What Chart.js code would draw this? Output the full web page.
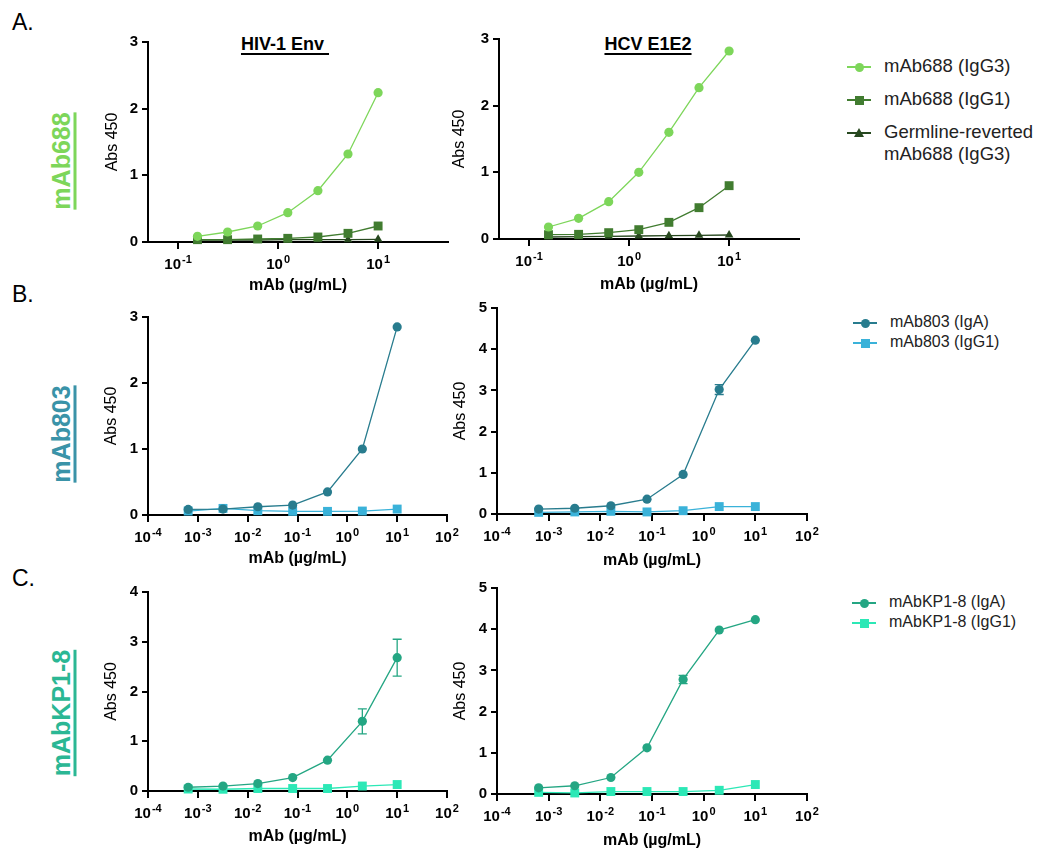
<!DOCTYPE html>
<html>
<head>
<meta charset="utf-8">
<script src="https://cdn.jsdelivr.net/npm/chart.js@4.4.1/dist/chart.umd.min.js"></script>
<style>
  body { margin: 0; background: #fff; font-family: "Liberation Sans", Arial, Helvetica, sans-serif; }
  #fig { position: relative; width: 1047px; height: 848px; overflow: hidden; }
  canvas { position: absolute; }
  .txt { position: absolute; white-space: nowrap; line-height: 1; color: #000; }
  .center { transform: translate(-50%, -50%); }
  .rot { transform: translate(-50%, -50%) rotate(-90deg); font-weight: bold; font-size: 25px;
         text-decoration: underline; text-decoration-thickness: 3px; text-underline-offset: 4px; }
  .head { font-weight: bold; font-size: 18px; text-decoration: underline; text-decoration-thickness: 2px; text-underline-offset: 3px; }
  .mk { position: absolute; }
</style>
</head>
<body>
<div id="fig">
  <div class="txt" style="left:12px;top:11px;font-size:23px">A.</div>
  <div class="txt" style="left:12px;top:283px;font-size:23px">B.</div>
  <div class="txt" style="left:12px;top:567px;font-size:23px">C.</div>

  <div class="txt rot" style="left:61px;top:161px;color:#7dd65a">mAb688</div>
  <div class="txt rot" style="left:61px;top:434px;color:#3a93a8">mAb803</div>
  <div class="txt rot" style="left:61px;top:713px;color:#2bb794">mAbKP1-8</div>

  <div class="txt center head" style="left:285px;top:44px">HIV-1 Env&nbsp;</div>
  <div class="txt center head" style="left:648px;top:44px">HCV E1E2</div>
</div>

<script>
// ---- Datos ----
const concA = [0.15625, 0.3125, 0.625, 1.25, 2.5, 5, 10];
const concBC = [0.00064, 0.0032, 0.016, 0.08, 0.4, 2, 10];

const ticksA = [0.1, 1, 10];
const ticksBC = [1e-4, 1e-3, 1e-2, 1e-1, 1, 10, 100];

// HIV-1 Env (mAb688)
const hivIgG3 = [0.085, 0.15, 0.24, 0.44, 0.77, 1.32, 2.24];
const hivIgG1 = [0.035, 0.035, 0.045, 0.055, 0.075, 0.13, 0.24];
const hivGerm = [0.03, 0.03, 0.03, 0.035, 0.035, 0.035, 0.04];

// HCV E1E2 (mAb688)
const hcvIgG3 = [0.18, 0.31, 0.56, 1.0, 1.6, 2.27, 2.82];
const hcvIgG1 = [0.065, 0.07, 0.095, 0.14, 0.25, 0.47, 0.8];
const hcvGerm = [0.03, 0.035, 0.04, 0.045, 0.05, 0.055, 0.06];

// mAb803
const b1IgA = [0.085, 0.09, 0.125, 0.15, 0.35, 1.0, 2.85];
const b1IgG1 = [0.06, 0.1, 0.065, 0.055, 0.055, 0.06, 0.09];
const b2IgA = [0.12, 0.14, 0.2, 0.36, 0.96, 3.02, 4.22];
const b2IgAErr = [0, 0, 0, 0, 0, 0.12, 0];
const b2IgG1 = [0.04, 0.05, 0.065, 0.05, 0.08, 0.18, 0.18];

// mAbKP1-8
const c1IgA = [0.075, 0.1, 0.15, 0.27, 0.62, 1.4, 2.68];
const c1IgAErr = [0, 0, 0, 0, 0, 0.25, 0.37];
const c1IgG1 = [0.04, 0.035, 0.05, 0.05, 0.05, 0.1, 0.13];
const c2IgA = [0.15, 0.2, 0.4, 1.12, 2.78, 3.98, 4.23];
const c2IgAErr = [0, 0, 0, 0, 0.1, 0, 0];
const c2IgG1 = [0.04, 0.025, 0.06, 0.06, 0.06, 0.09, 0.23];

// Colores
const colIgG3 = '#7dd65a';
const colIgG1 = '#417c30';
const colGerm = '#27481f';
const col803A = '#287c8e';
const col803G = '#3ab2d9';
const colKPA = '#24a683';
const colKPG = '#2ce8b6';

const FONT = '"Liberation Sans", Arial, Helvetica, sans-serif';
const fig = document.getElementById('fig');

// ---- Plugins ----
const errorBars = {
  id: 'errorBars',
  afterDatasetsDraw(chart) {
    const { ctx, scales: { x, y } } = chart;
    chart.data.datasets.forEach(ds => {
      if (!ds.errors) return;
      ctx.save();
      ctx.strokeStyle = ds.borderColor;
      ctx.lineWidth = 1.3;
      ds.data.forEach((p, i) => {
        const e = ds.errors[i];
        if (!e) return;
        const px = x.getPixelForValue(p.x);
        const top = y.getPixelForValue(p.y + e);
        const bot = y.getPixelForValue(p.y - e);
        ctx.beginPath();
        ctx.moveTo(px, top); ctx.lineTo(px, bot);
        ctx.moveTo(px - 4.5, top); ctx.lineTo(px + 4.5, top);
        ctx.moveTo(px - 4.5, bot); ctx.lineTo(px + 4.5, bot);
        ctx.stroke();
      });
      ctx.restore();
    });
  }
};

// etiquetas 10^n con exponente
const powerTicks = {
  id: 'powerTicks',
  afterDraw(chart) {
    const { ctx, scales: { x } } = chart;
    ctx.save();
    ctx.fillStyle = '#000';
    ctx.textBaseline = 'alphabetic';
    const base = x.top + 27;
    x.ticks.forEach(t => {
      const px = x.getPixelForValue(t.value);
      const exp = String(Math.round(Math.log10(t.value)));
      ctx.font = 'bold 15px ' + FONT;
      const wb = ctx.measureText('10').width;
      ctx.font = 'bold 11px ' + FONT;
      const we = ctx.measureText(exp).width;
      const start = px - (wb + we + 1) / 2;
      ctx.font = 'bold 15px ' + FONT;
      ctx.fillText('10', start, base);
      ctx.font = 'bold 11px ' + FONT;
      ctx.fillText(exp, start + wb + 1, base - 6);
    });
    ctx.restore();
  }
};

function series(label, y, color, shape, errors) {
  return { label, y, color, shape, errors };
}

function makePanel(cfg) {
  const padT = 14, padR = 22;
  const a = cfg.area;
  const cLeft = Math.round(cfg.yTitleX - 9.6);
  const cTop = a.top - padT;
  const cRight = a.left + a.w + padR;
  const cBottom = Math.round(cfg.xTitleY + 9.6);
  const canvas = document.createElement('canvas');
  canvas.width = cRight - cLeft;
  canvas.height = cBottom - cTop;
  canvas.style.left = cLeft + 'px';
  canvas.style.top = cTop + 'px';
  fig.appendChild(canvas);
  const yW = a.left - cLeft;
  const xH = cBottom - (a.top + a.h);

  new Chart(canvas, {
    type: 'line',
    data: {
      datasets: cfg.series.map(s => ({
        label: s.label,
        data: cfg.x.map((v, i) => ({ x: v, y: s.y[i] })),
        errors: s.errors,
        borderColor: s.color,
        backgroundColor: s.color,
        borderWidth: 1.3,
        pointStyle: s.shape,
        pointRadius: s.shape === 'rect' ? 6.3 : (s.shape === 'triangle' ? 5 : 4.6),
        pointBorderWidth: 0,
        tension: 0,
        clip: false
      }))
    },
    options: {
      responsive: false,
      animation: false,
      devicePixelRatio: 1,
      layout: { padding: { top: padT, right: padR, left: 0, bottom: 0 }, autoPadding: false },
      plugins: { legend: { display: false }, tooltip: { enabled: false } },
      scales: {
        x: {
          type: 'logarithmic',
          min: cfg.xMin,
          max: cfg.xMax,
          afterBuildTicks: s => { s.ticks = cfg.xTicks.map(v => ({ value: v })); },
          afterFit: s => { s.height = xH; },
          grid: { drawOnChartArea: false, color: '#000', lineWidth: 2, tickLength: 7 },
          border: { color: '#000', width: 2 },
          ticks: { callback: () => '', maxRotation: 0 },
          title: { display: true, text: 'mAb (µg/mL)', color: '#000', padding: 0,
                   font: { family: FONT, size: 16, weight: 'bold' } }
        },
        y: {
          min: 0,
          max: cfg.yMax,
          afterFit: s => { s.width = yW; },
          grid: { drawOnChartArea: false, color: '#000', lineWidth: 2, tickLength: 6 },
          border: { color: '#000', width: 2 },
          ticks: { stepSize: 1, color: '#000', padding: 4, font: { family: FONT, size: 15, weight: 'bold' } },
          title: { display: true, text: 'Abs 450', color: '#000', padding: 0,
                   font: { family: FONT, size: 16, weight: 'normal' } }
        }
      }
    },
    plugins: [errorBars, powerTicks]
  });
}

makePanel({
  area: { left: 148, top: 42, w: 300, h: 200 }, yTitleX: 113, xTitleY: 285,
  x: concA, xMin: 0.05, xMax: 50, xTicks: ticksA, yMax: 3,
  series: [
    series('mAb688 (IgG3)', hivIgG3, colIgG3, 'circle'),
    series('mAb688 (IgG1)', hivIgG1, colIgG1, 'rect'),
    series('Germline-reverted mAb688 (IgG3)', hivGerm, colGerm, 'triangle')
  ]
});
makePanel({
  area: { left: 499, top: 39, w: 300, h: 200 }, yTitleX: 460, xTitleY: 284,
  x: concA, xMin: 0.05, xMax: 50, xTicks: ticksA, yMax: 3,
  series: [
    series('mAb688 (IgG3)', hcvIgG3, colIgG3, 'circle'),
    series('mAb688 (IgG1)', hcvIgG1, colIgG1, 'rect'),
    series('Germline-reverted mAb688 (IgG3)', hcvGerm, colGerm, 'triangle')
  ]
});
makePanel({
  area: { left: 148, top: 317, w: 299, h: 198 }, yTitleX: 112, xTitleY: 558,
  x: concBC, xMin: 1e-4, xMax: 100, xTicks: ticksBC, yMax: 3,
  series: [
    series('mAb803 (IgA)', b1IgA, col803A, 'circle'),
    series('mAb803 (IgG1)', b1IgG1, col803G, 'rect')
  ]
});
makePanel({
  area: { left: 497, top: 308, w: 310, h: 206 }, yTitleX: 461, xTitleY: 560,
  x: concBC, xMin: 1e-4, xMax: 100, xTicks: ticksBC, yMax: 5,
  series: [
    series('mAb803 (IgA)', b2IgA, col803A, 'circle', b2IgAErr),
    series('mAb803 (IgG1)', b2IgG1, col803G, 'rect')
  ]
});
makePanel({
  area: { left: 148, top: 592, w: 299, h: 199 }, yTitleX: 112, xTitleY: 836,
  x: concBC, xMin: 1e-4, xMax: 100, xTicks: ticksBC, yMax: 4,
  series: [
    series('mAbKP1-8 (IgA)', c1IgA, colKPA, 'circle', c1IgAErr),
    series('mAbKP1-8 (IgG1)', c1IgG1, colKPG, 'rect')
  ]
});
makePanel({
  area: { left: 497, top: 588, w: 310, h: 206 }, yTitleX: 461, xTitleY: 840,
  x: concBC, xMin: 1e-4, xMax: 100, xTicks: ticksBC, yMax: 5,
  series: [
    series('mAbKP1-8 (IgA)', c2IgA, colKPA, 'circle', c2IgAErr),
    series('mAbKP1-8 (IgG1)', c2IgG1, colKPG, 'rect')
  ]
});

// ---- Leyendas ----
function legendRow(x0, y, color, shape, lines, size) {
  const line = document.createElement('div');
  line.className = 'mk';
  Object.assign(line.style, { left: x0 + 'px', top: (y - 0.75) + 'px', width: '24px', height: '1.5px', background: color });
  fig.appendChild(line);
  const m = document.createElement('div');
  m.className = 'mk';
  const cx = x0 + 12;
  if (shape === 'circle') {
    Object.assign(m.style, { left: (cx - 4.5) + 'px', top: (y - 4.5) + 'px', width: '9px', height: '9px', borderRadius: '50%', background: color });
  } else if (shape === 'rect') {
    Object.assign(m.style, { left: (cx - 4.5) + 'px', top: (y - 4.5) + 'px', width: '9px', height: '9px', background: color });
  } else {
    Object.assign(m.style, { left: (cx - 5) + 'px', top: (y - 5) + 'px', width: 0, height: 0,
      borderLeft: '5px solid transparent', borderRight: '5px solid transparent', borderBottom: '9px solid ' + color });
  }
  fig.appendChild(m);
  lines.forEach((t, i) => {
    const d = document.createElement('div');
    d.className = 'txt';
    d.textContent = t;
    Object.assign(d.style, { left: (x0 + 37) + 'px', top: (y + i * 22 - size / 2 - 1) + 'px', fontSize: size + 'px', color: '#222' });
    fig.appendChild(d);
  });
}

legendRow(847, 67, colIgG3, 'circle', ['mAb688 (IgG3)'], 18.5);
legendRow(847, 100, colIgG1, 'rect', ['mAb688 (IgG1)'], 18.5);
legendRow(847, 133, colGerm, 'triangle', ['Germline-reverted', 'mAb688 (IgG3)'], 18.5);

legendRow(853, 323, col803A, 'circle', ['mAb803 (IgA)'], 16);
legendRow(853, 343, col803G, 'rect', ['mAb803 (IgG1)'], 16);

legendRow(852, 603, colKPA, 'circle', ['mAbKP1-8 (IgA)'], 16);
legendRow(852, 623, colKPG, 'rect', ['mAbKP1-8 (IgG1)'], 16);
</script>
</body>
</html>
